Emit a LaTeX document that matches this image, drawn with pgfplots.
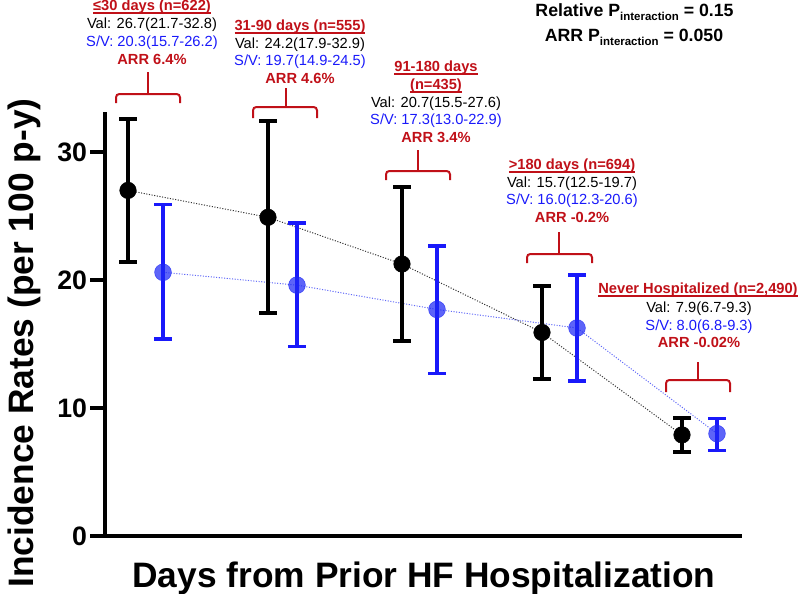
\documentclass[border=0pt]{standalone}
\usepackage{pgfplots}
\pgfplotsset{compat=1.18}
\usepackage{fontspec}
\setmainfont{Liberation Sans}
\usepackage{graphicx}
\definecolor{arrred}{RGB}{192,16,24}
\definecolor{svblue}{RGB}{25,25,250}
\definecolor{ptblue}{RGB}{30,40,245}
\newcommand{\ann}{\fontsize{11}{13}\selectfont}
\newcommand{\ul}[1]{\setbox0\hbox{#1}\leavevmode\rlap{\rule[-2.9pt]{\wd0}{1.2pt}}\box0}
\newcommand{\Pint}{P\raisebox{-3pt}{\fontsize{8.6}{9}\selectfont interaction}}
\begin{document}
\begin{tikzpicture}
\begin{axis}[
  at={(78.75pt,-402pt)}, anchor=south west,
  scale only axis, width=477.75pt, height=318pt,
  xmin=105, xmax=742, ymin=0, ymax=33.125,
  axis x line=bottom, axis y line=left,
  axis line style={-, line width=3pt},
  every outer x axis line/.append style={-},
  every outer y axis line/.append style={-},
  xtick=\empty, ytick={0,10,20,30},
  tick align=outside, major tick length=11.25pt,
  tick style={line width=3pt, black},
  yticklabel style={font=\fontsize{20}{22}\selectfont\bfseries, inner sep=2pt},
  /pgf/number format/assume math mode=true,
  clip=false,
]
% dotted connecting lines
\addplot[black!80, line width=0.75pt, dash pattern=on 0.8pt off 1.2pt] coordinates {
 (128,27.0) (268,24.9) (402,21.25) (542,15.9) (682,7.9)};
\addplot[ptblue!70, line width=0.75pt, dash pattern=on 0.8pt off 1.2pt] coordinates {
 (163,20.6) (297,19.6) (437,17.7) (577,16.25) (717,8.0)};
% Valsartan
\addplot[black, only marks, mark=*, mark size=6.2pt,
  error bars/.cd, y dir=both, y explicit,
  error bar style={line width=3pt, black},
  error mark options={rotate=90, mark size=6.4pt, line width=3pt, black}]
 coordinates {
 (128,27.0) += (0,5.6) -= (0,5.6)
 (268,24.9) += (0,7.5) -= (0,7.5)
 (402,21.25) += (0,6.05) -= (0,6.05)
 (542,15.9) += (0,3.6) -= (0,3.6)
 (682,7.9) += (0,1.3) -= (0,1.3)
 };
% Sacubitril/Valsartan
\addplot[ptblue, only marks, mark=*, mark size=6.3pt,
  mark options={fill=ptblue, draw=ptblue, fill opacity=0.72, draw opacity=0.72},
  error bars/.cd, y dir=both, y explicit,
  error bar style={line width=2.6pt, svblue},
  error mark options={rotate=90, mark size=6.4pt, line width=2.6pt, svblue}]
 coordinates {
 (163,20.6) += (0,5.3) -= (0,5.2)
 (297,19.6) += (0,4.85) -= (0,4.8)
 (437,17.7) += (0,4.95) -= (0,5.0)
 (577,16.25) += (0,4.15) -= (0,4.15)
 (717,8.0) += (0,1.2) -= (0,1.3)
 };
\end{axis}
\begin{scope}[x=0.75pt,y=-0.75pt]
\path[use as bounding box] (0,0) rectangle (800,593);
% axis titles
\node[anchor=base, rotate=90, font=\fontsize{26.5}{28}\selectfont\bfseries] at (33,343) {Incidence Rates (per 100 p-y)};
\node[anchor=base, font=\fontsize{26.5}{28}\selectfont\bfseries] at (424,587) {Days from Prior HF Hospitalization};
% P interaction
\node[anchor=base, font=\fontsize{13.3}{15}\selectfont\bfseries, inner sep=0pt] at (634.5,16.7) {Relative \Pint{} = 0.15};
\node[anchor=base, font=\fontsize{13.3}{15}\selectfont\bfseries, inner sep=0pt] at (634,41.7) {ARR \Pint{} = 0.050};
% annotation style
\tikzset{ttl/.style={anchor=base, inner sep=0pt, font=\ann\bfseries, text=arrred},
         val/.style={anchor=base, inner sep=0pt, font=\ann, text=black},
         sv/.style={anchor=base, inner sep=0pt, font=\ann, text=svblue},
         arr/.style={anchor=base, inner sep=0pt, font=\ann\bfseries, text=arrred},
         br/.style={draw=arrred, line width=1.5pt, rounded corners=2.5pt}}
% group 1
\node[ttl] at (152,10) {\ul{≤30 days (n=622)}};
\node[val] at (152,28) {Val: 26.7(21.7-32.8)};
\node[sv]  at (152,46) {S/V: 20.3(15.7-26.2)};
\node[arr] at (152,64) {ARR 6.4\%};
\draw[br] (116,103) -- (116,94) -- (180,94) -- (180,103);
\draw[br, rounded corners=0pt] (148,94) -- (148,72);
% group 2
\node[ttl] at (300,30) {\ul{31-90 days (n=555)}};
\node[val] at (300,48) {Val: 24.2(17.9-32.9)};
\node[sv]  at (300,65.5) {S/V: 19.7(14.9-24.5)};
\node[arr] at (300,83) {ARR 4.6\%};
\draw[br] (253,118) -- (253,107) -- (317,107) -- (317,118);
\draw[br, rounded corners=0pt] (286,107) -- (286,88);
% group 3
\node[ttl] at (436,71) {\ul{91-180 days}};
\node[ttl] at (436,89) {\ul{(n=435)}};
\node[val] at (436,107) {Val: 20.7(15.5-27.6)};
\node[sv]  at (436,124.5) {S/V: 17.3(13.0-22.9)};
\node[arr] at (436,142.5) {ARR 3.4\%};
\draw[br] (386,180) -- (386,171) -- (450,171) -- (450,180);
\draw[br, rounded corners=0pt] (418,171) -- (418,150);
% group 4
\node[ttl] at (572,169) {\ul{>180 days (n=694)}};
\node[val] at (572,187) {Val: 15.7(12.5-19.7)};
\node[sv]  at (572,204.5) {S/V: 16.0(12.3-20.6)};
\node[arr] at (572,222.5) {ARR -0.2\%};
\draw[br] (527,263) -- (527,254) -- (592,254) -- (592,263);
\draw[br, rounded corners=0pt] (559,254) -- (559,232);
% group 5
\node[ttl] at (698,293) {\ul{Never Hospitalized (n=2,490)}};
\node[val] at (699,312) {Val: 7.9(6.7-9.3)};
\node[sv]  at (699,330) {S/V: 8.0(6.8-9.3)};
\node[arr] at (699,347.5) {ARR -0.02\%};
\draw[br] (666,392) -- (666,380) -- (730,380) -- (730,392);
\draw[br, rounded corners=0pt] (698,380) -- (698,362);
\end{scope}
\end{tikzpicture}
\end{document}
